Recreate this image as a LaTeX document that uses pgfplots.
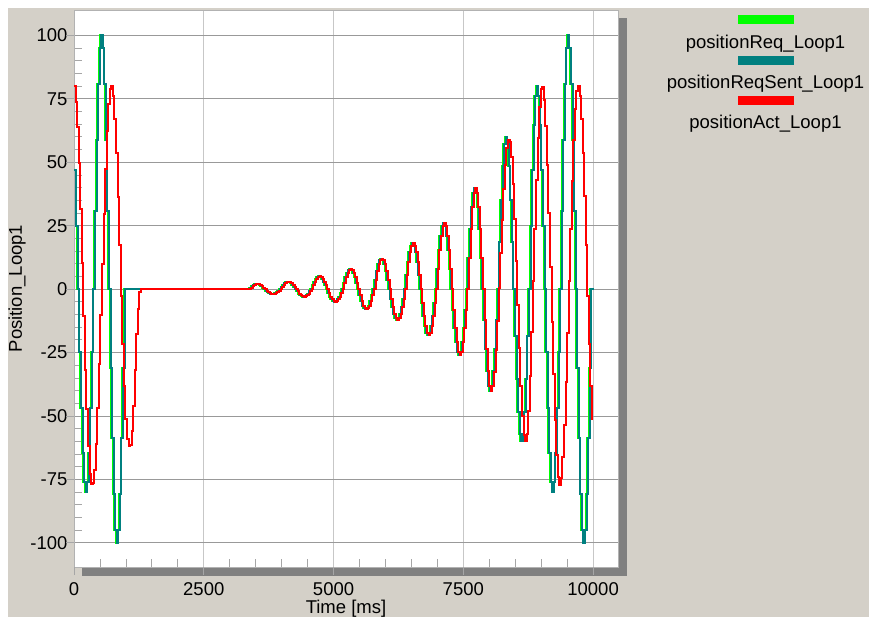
\documentclass[border=0pt]{standalone}
\usepackage{fontspec}
\setmainfont{Liberation Sans}
\usepackage{pgfplots}
\usepackage{pgfplotstable}
\pgfplotsset{compat=1.18}

\definecolor{winbg}{HTML}{D4D0C8}
\definecolor{dropgray}{HTML}{808080}
\definecolor{reqgreen}{HTML}{00FF00}
\definecolor{sentteal}{HTML}{008080}
\definecolor{actred}{HTML}{FF0000}
\newcommand\lblfont{\fontsize{18.5bp}{22bp}\selectfont}

% t = time [ms], ts = time of the sent value, req = requested, act = actual
\pgfplotstableread{
t ts req act
0 0 47.0 80
30 45 24.7 73.6
60 75 0 63.8
90 105 -24.7 49.6
120 135 -47.0 31.5
150 165 -64.7 10.2
180 195 -76.1 -10.7
210 225 -80 -31.9
240 255 -76.1 -47.3
270 285 -64.7 -62
300 315 -47.0 -72.8
330 345 -24.7 -76.7
360 375 0 -76.5
390 405 30.9 -71.2
420 435 58.8 -61.2
450 465 80.9 -47.0
480 495 95.1 -29.7
510 525 100 -10.3
540 555 95.1 9.9
570 585 80.9 29.5
600 615 58.8 47.4
630 645 30.9 62.3
660 675 0 72.9
690 705 -30.9 78.8
720 735 -58.8 80
750 765 -80.9 76.2
780 795 -95.1 67.2
810 825 -100 53.7
840 855 -95.1 36.5
870 885 -80.9 17.4
900 915 -58.8 -2.6
930 945 -30.9 -21.7
960 975 0 -38.2
990 1005 0 -51.1
1020 1035 0 -59.2
1050 1065 0 -62
1080 1095 0 -61.5
1110 1125 0 -55.8
1140 1155 0 -45.9
1170 1185 0 -31.9
1200 1215 0 -17.8
1230 1245 0 -8
1260 1275 0 -1
1290 1305 0 0
3350 3365 0 0
3380 3395 0.62 0
3410 3425 1.18 0.62
3440 3455 1.62 1.18
3470 3485 1.9 1.62
3500 3515 2 1.9
3530 3545 1.9 2
3560 3575 1.62 1.9
3590 3605 1.18 1.62
3620 3635 0.62 1.18
3650 3665 0 0.62
3680 3695 -0.62 0
3710 3725 -1.18 -0.62
3740 3755 -1.62 -1.18
3770 3785 -1.9 -1.62
3800 3815 -2 -1.9
3830 3845 -1.9 -2
3860 3875 -1.62 -1.9
3890 3905 -1.18 -1.62
3920 3935 -0.62 -1.18
3950 3965 0 -0.62
3980 3995 0.93 0
4010 4025 1.76 0.93
4040 4055 2.43 1.76
4070 4085 2.85 2.43
4100 4115 3 2.85
4130 4145 2.85 3
4160 4175 2.43 2.85
4190 4205 1.76 2.43
4220 4235 0.93 1.76
4250 4265 0 0.93
4280 4295 -0.93 0
4310 4325 -1.76 -0.93
4340 4355 -2.43 -1.76
4370 4385 -2.85 -2.43
4400 4415 -3 -2.85
4430 4445 -2.85 -3
4460 4475 -2.43 -2.85
4490 4505 -1.76 -2.43
4520 4535 -0.93 -1.76
4550 4565 0 -0.93
4580 4595 1.55 0
4610 4625 2.94 1.55
4640 4655 4.05 2.94
4670 4685 4.76 4.05
4700 4715 5 4.76
4730 4745 4.76 5
4760 4775 4.05 4.76
4790 4805 2.94 4.05
4820 4835 1.55 2.94
4850 4865 0 1.55
4880 4895 -1.55 0
4910 4925 -2.94 -1.55
4940 4955 -4.05 -2.94
4970 4985 -4.76 -4.05
5000 5015 -5 -4.76
5030 5045 -4.76 -5
5060 5075 -4.05 -4.76
5090 5105 -2.94 -4.05
5120 5135 -1.55 -2.94
5150 5165 0 -1.55
5180 5195 2.47 0
5210 5225 4.7 2.47
5240 5255 6.47 4.7
5270 5285 7.61 6.47
5300 5315 8 7.61
5330 5345 7.61 8
5360 5375 6.47 7.61
5390 5405 4.7 6.47
5420 5435 2.47 4.7
5450 5465 0 2.47
5480 5495 -2.47 0
5510 5525 -4.7 -2.47
5540 5555 -6.47 -4.7
5570 5585 -7.61 -6.47
5600 5615 -8 -7.61
5630 5645 -7.61 -8
5660 5675 -6.47 -7.61
5690 5705 -4.7 -6.47
5720 5735 -2.47 -4.7
5750 5765 0 -2.47
5780 5795 3.71 0
5810 5825 7.05 3.71
5840 5855 9.71 7.05
5870 5885 11.41 9.71
5900 5915 12 11.41
5930 5945 11.41 12
5960 5975 9.71 11.41
5990 6005 7.05 9.71
6020 6035 3.71 7.05
6050 6065 0 3.71
6080 6095 -3.71 0
6110 6125 -7.05 -3.71
6140 6155 -9.71 -7.05
6170 6185 -11.41 -9.71
6200 6215 -12 -11.41
6230 6245 -11.41 -12
6260 6275 -9.71 -11.41
6290 6305 -7.05 -9.71
6320 6335 -3.71 -7.05
6350 6365 0 -3.71
6380 6395 5.56 0
6410 6425 10.58 5.56
6440 6455 14.56 10.58
6470 6485 17.12 14.56
6500 6515 18 17.12
6530 6545 17.12 18
6560 6575 14.56 17.12
6590 6605 10.58 14.56
6620 6635 5.56 10.58
6650 6665 0 5.56
6680 6695 -5.56 0
6710 6725 -10.58 -5.56
6740 6755 -14.56 -10.58
6770 6785 -17.12 -14.56
6800 6815 -18 -17.12
6830 6845 -17.12 -18
6860 6875 -14.56 -17.12
6890 6905 -10.58 -14.56
6920 6935 -5.56 -10.58
6950 6965 0 -5.56
6980 6995 8.03 0
7010 7025 15.29 8.03
7040 7055 21.03 15.29
7070 7085 24.73 21.03
7100 7115 26 24.73
7130 7145 24.73 26
7160 7175 21.03 24.73
7190 7205 15.29 21.03
7220 7235 8.03 15.29
7250 7265 0 8.03
7280 7295 -8.03 0
7310 7325 -15.29 -8.03
7340 7355 -21.03 -15.29
7370 7385 -24.73 -21.03
7400 7415 -26 -24.73
7430 7445 -24.73 -26
7460 7475 -21.03 -24.73
7490 7505 -15.29 -21.03
7520 7535 -8.03 -15.29
7550 7565 0 -8.03
7580 7595 12.36 0
7610 7625 23.51 12.36
7640 7655 32.36 23.51
7670 7685 38.04 32.36
7700 7715 40 38.04
7730 7745 38.04 40
7760 7775 32.36 38.04
7790 7805 23.51 32.36
7820 7835 12.36 23.51
7850 7865 0 12.36
7880 7895 -12.36 0
7910 7925 -23.51 -12.36
7940 7955 -32.36 -23.51
7970 7985 -38.04 -32.36
8000 8015 -40 -38.04
8030 8045 -38.04 -40
8060 8075 -32.36 -38.1
8090 8105 -23.51 -32.6
8120 8135 -12.36 -23.8
8150 8165 0 -12.6
8180 8195 18.54 0.4
8210 8225 35.27 14.1
8240 8255 48.54 27.4
8270 8285 57.06 39.3
8300 8315 60 49.0
8330 8345 57.06 55.6
8360 8375 48.54 58.8
8390 8405 35.27 57.9
8420 8435 18.54 52.0
8450 8465 0 41.6
8480 8495 -18.54 27.5
8510 8525 -35.27 11.1
8540 8555 -48.54 -6.3
8570 8585 -57.06 -23.3
8600 8615 -60 -38.2
8630 8645 -57.06 -50.0
8660 8675 -48.54 -57.4
8690 8705 -35.27 -60
8720 8735 -18.54 -57.0
8750 8765 0 -48.2
8780 8795 24.72 -34.4
8810 8825 47.02 -16.8
8840 8855 64.72 3.1
8870 8885 76.08 23.7
8900 8915 80 43.0
8930 8945 76.08 59.5
8960 8975 64.72 71.7
8990 9005 47.02 78.7
9020 9035 24.72 79.7
9050 9065 0 74.7
9080 9095 -24.72 64.1
9110 9125 -47.02 48.8
9140 9155 -64.72 29.9
9170 9185 -76.08 8.7
9200 9215 -80 -12.9
9230 9245 -76.08 -33.5
9260 9275 -64.72 -51.4
9290 9305 -47.02 -65.2
9320 9335 -24.72 -74.0
9350 9365 0 -77
9380 9395 30.9 -74.3
9410 9425 58.8 -66.2
9440 9455 80.9 -53.4
9470 9485 95.1 -36.7
9500 9515 100 -17.4
9530 9545 95.1 3.2
9560 9575 80.9 23.8
9590 9605 58.8 42.7
9620 9635 30.9 58.8
9650 9665 0 70.9
9680 9695 -30.9 78.1
9710 9725 -58.8 79.9
9740 9755 -80.9 76.2
9770 9785 -95.1 67.2
9800 9815 -100 53.7
9830 9845 -95.1 36.6
9860 9875 -80.9 17.3
9890 9905 -58.8 -2.6
9920 9935 -30.9 -21.6
9950 9965 0 -38.2
9980 9995 0 -51.1
10000 10000 0 -51.1
}\looptable

\begin{document}
\begin{tikzpicture}
% window background and drop shadow of the plot area
\fill[white] (0bp,0bp) rectangle (869bp,617bp);
\fill[winbg] (8bp,0bp) rectangle (869bp,609bp);
\fill[dropgray] (82bp,41bp) rectangle (627bp,599bp);

\begin{axis}[
    at={(74bp,50bp)}, anchor=south west,
    scale only axis, width=544bp, height=557bp,
    xmin=0, xmax=10480, ymin=-109.5, ymax=110,
    axis background/.style={fill=white},
    axis line style={black!30, line width=0.8bp},
    scaled ticks=false,
    xtick={0,2500,5000,7500,10000},
    xticklabels={0,2500,5000,7500,10000},
    ytick={-100,-75,-50,-25,0,25,50,75,100},
    yticklabels={-100,-75,-50,-25,0,25,50,75,100},
    minor x tick num=4, minor y tick num=4,
    tick pos=left, tick align=inside,
    major tick length=0pt, minor tick length=8bp,
    minor tick style={black!35, line width=0.8bp},
    extra x ticks={0,2500,5000,7500,10000}, extra x tick labels={},
    extra y ticks={-100,-75,-50,-25,0,25,50,75,100}, extra y tick labels={},
    extra tick style={grid=none, tick align=outside, major tick length=8bp,
        major tick style={black!35, line width=0.8bp}},
    grid=major,
    every axis x grid/.style={black!22, line width=0.8bp},
    every axis y grid/.style={black!40, line width=0.8bp},
    xticklabel style={font=\lblfont, anchor=base, yshift=-28bp},
    yticklabel style={font=\lblfont, xshift=-3bp},
    xlabel={Time [ms]},
    xlabel style={font=\lblfont, at={(axis description cs:0.5,0)}, anchor=base, yshift=-46bp},
    ylabel={Position\_Loop1},
    ylabel style={font=\lblfont, at={(axis description cs:-0.1048,0.5)}, anchor=center},
]
\addplot[const plot, reqgreen, line width=2bp] table[x=t, y=req] {\looptable};
\addplot[const plot, sentteal, line width=2bp] table[x=ts, y=req] {\looptable};
\addplot[const plot, actred, line width=2bp] table[x=t, y=act] {\looptable};
\end{axis}

% legend
\fill[reqgreen] (738bp,593bp) rectangle (794bp,602bp);
\node[font=\lblfont, anchor=base, inner sep=0pt] at (765.5bp,568bp) {positionReq\_Loop1};
\fill[sentteal] (738bp,552bp) rectangle (794bp,561bp);
\node[font=\lblfont, anchor=base, inner sep=0pt] at (765.5bp,528bp) {positionReqSent\_Loop1};
\fill[actred] (738bp,512bp) rectangle (794bp,521bp);
\node[font=\lblfont, anchor=base, inner sep=0pt] at (765.5bp,488bp) {positionAct\_Loop1};

\pgfresetboundingbox
\path[use as bounding box] (0bp,0bp) rectangle (869bp,617bp);
\end{tikzpicture}
\end{document}
